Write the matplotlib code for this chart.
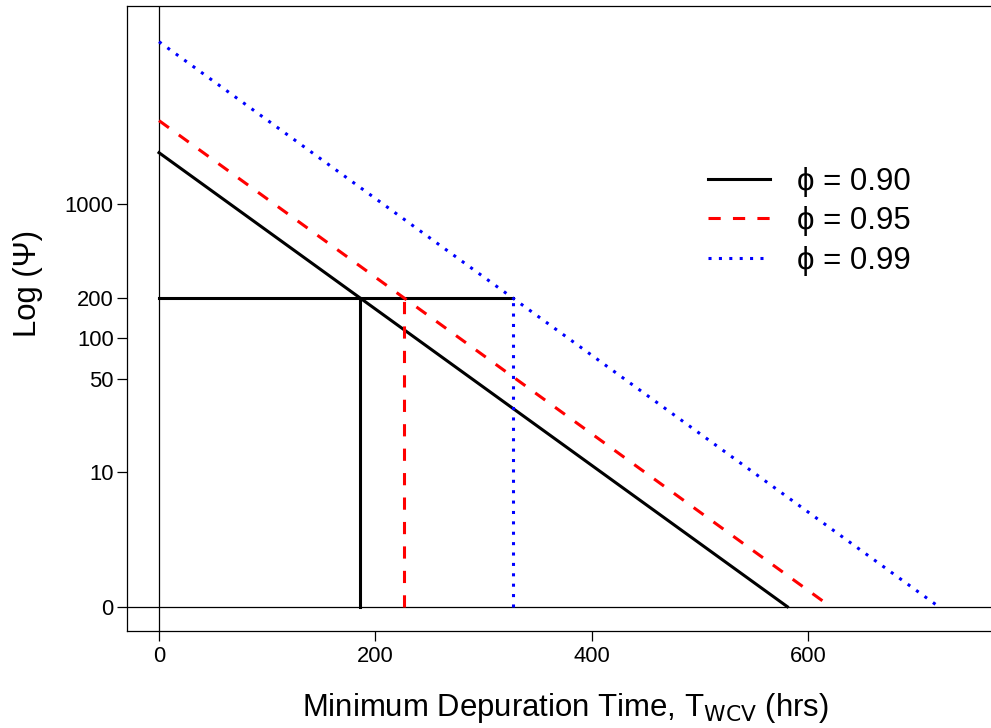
import matplotlib
matplotlib.use("Agg")
import matplotlib.pyplot as plt
from matplotlib.ticker import FixedLocator, FixedFormatter, NullLocator

plt.rcParams['font.family'] = ['Liberation Sans', 'DejaVu Sans']

# ---- data ----
phi_labels = ["\u03d5 = 0.90", "\u03d5 = 0.95", "\u03d5 = 0.99"]
colors = ["black", "red", "blue"]
psi_start = [2415, 4188, 16218]      # Psi at t = 0
t_zero = [581, 621, 721]             # time where Psi reaches 1 (label "0")
t_200 = [186, 226.5, 327]            # time where Psi reaches 200
psi_target = 200
psi_floor = 1

x_ticks = [0, 200, 400, 600]
y_ticks = [1, 10, 50, 100, 200, 1000]
y_tick_labels = ["0", "10", "50", "100", "200", "1000"]

W, H = 991, 728
fig = plt.figure(figsize=(W / 100, H / 100), dpi=100)
ax = fig.add_axes([127 / W, 1 - 630.7 / H, (W - 127) / W, (630.7 - 6) / H])

ax.set_yscale('log')
ax.set_xlim(-29.6, 769.3)
ax.set_ylim(10 ** (-0.1788), 10 ** 4.476)

styles = [dict(ls='-'), dict(ls=(0, (4, 4))), dict(ls=(0, (1, 2.4)))]
lw = 2.2

# reference axes lines
ax.axvline(0, color='black', lw=0.9, zorder=1)
ax.axhline(psi_floor, color='black', lw=0.9, zorder=1)

handles = []
for i in range(3):
    h, = ax.plot([0, t_zero[i]], [psi_start[i], psi_floor], color=colors[i], lw=lw,
                 **styles[i], zorder=3)
    handles.append(h)
    ax.plot([t_200[i], t_200[i]], [psi_floor, psi_target], color=colors[i], lw=lw,
            **styles[i], zorder=3)

ax.plot([0, t_200[2]], [psi_target, psi_target], color='black', lw=lw, zorder=2)

ax.yaxis.set_major_locator(FixedLocator(y_ticks))
ax.yaxis.set_major_formatter(FixedFormatter(y_tick_labels))
ax.yaxis.set_minor_locator(NullLocator())
ax.set_xticks(x_ticks)
ax.tick_params(axis='both', direction='out', length=7, width=0.9, labelsize=15.8)
ax.tick_params(axis='y', pad=2.5)
ax.tick_params(axis='x', pad=4)

for s in ['left', 'bottom', 'top']:
    ax.spines[s].set_linewidth(0.9)
ax.spines['right'].set_visible(False)

ax.set_xlabel("Minimum Depuration Time, T$_{\\mathrm{WCV}}$ (hrs)", fontsize=22.4)
ax.xaxis.set_label_coords((565 - 127) / (W - 127), -(691 - 630.7) / (630.7 - 6))
ax.set_ylabel("Log (\u03a8)", fontsize=22.4)
ax.yaxis.set_label_coords(-(127 - 43) / (W - 127), (630.7 - 284) / (630.7 - 6))

leg = ax.legend(handles, phi_labels, loc='upper left', frameon=False, fontsize=22.4,
                handlelength=2.0, handletextpad=0.87, labelspacing=0.3,
                bbox_to_anchor=((680 - 127) / (W - 127), (630.7 - 139) / (630.7 - 6)))

fig.savefig("out.png", dpi=100)
